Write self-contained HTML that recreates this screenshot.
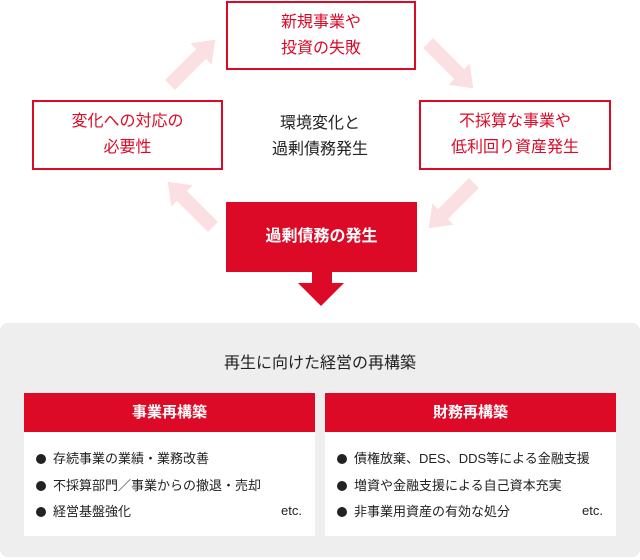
<!DOCTYPE html>
<html><head><meta charset="utf-8"><style>
body{margin:0;width:640px;height:560px;background:#fff;font-family:"Liberation Sans","Noto Sans CJK JP",sans-serif;position:relative;overflow:hidden}
.box{position:absolute;box-sizing:border-box;border:2px solid #dc0a27;color:#dc0a27;font-size:16px;line-height:26px;text-align:center;display:flex;align-items:center;justify-content:center}
.abs{position:absolute}
.li{position:relative;padding-left:17px;height:26.5px}
.li:before{content:"";position:absolute;left:0;top:8px;width:10px;height:10px;border-radius:50%;background:#222}
</style></head><body>
<svg class="abs" style="left:0;top:0" width="640" height="320">
<defs><polygon id="ar" points="0,-7 44,-7 44,-15 64,0 44,15 44,7 0,7" fill="#fbe0e3"/></defs>
<use href="#ar" transform="translate(170,85) rotate(-45)"/>
<use href="#ar" transform="translate(428,43) rotate(45)"/>
<use href="#ar" transform="translate(474,183) rotate(135)"/>
<use href="#ar" transform="translate(213,227) rotate(-135)"/>
<rect x="312" y="271" width="20" height="13" fill="#dc0a27"/>
<polygon points="298,283 344,283 321,306" fill="#dc0a27"/>
</svg>
<div class="box" style="left:226px;top:1px;width:190px;height:69px">新規事業や<br>投資の失敗</div>
<div class="box" style="left:32px;top:100px;width:191px;height:70px">変化への対応の<br>必要性</div>
<div class="box" style="left:419px;top:100px;width:192px;height:70px">不採算な事業や<br>低利回り資産発生</div>
<div class="abs" style="left:230px;top:111px;width:180px;text-align:center;font-size:16px;line-height:26px;color:#222">環境変化と<br>過剰債務発生</div>
<div class="box" style="left:226px;top:202px;width:191px;height:70px;background:#dc0a27;color:#fff;font-weight:bold">過剰債務の発生</div>
<div class="abs" style="left:0;top:323px;width:640px;height:234px;background:#eeeeee;border-radius:8px"></div>
<div class="abs" style="left:0;top:349px;width:640px;text-align:center;font-size:16px;color:#222">再生に向けた経営の再構築</div>
<div class="abs" style="left:24px;top:393px;width:291px;height:143px;background:#fff"></div>
<div class="abs" style="left:325px;top:393px;width:291px;height:143px;background:#fff"></div>
<div class="abs" style="left:24px;top:393px;width:291px;height:39px;background:#dc0a27;color:#fff;font-weight:bold;font-size:15px;line-height:39px;text-align:center">事業再構築</div>
<div class="abs" style="left:325px;top:393px;width:291px;height:39px;background:#dc0a27;color:#fff;font-weight:bold;font-size:15px;line-height:39px;text-align:center">財務再構築</div>
<div class="abs" style="left:36px;top:446px;font-size:13px;line-height:26.5px;color:#222"><div class="li">存続事業の業績・業務改善</div><div class="li">不採算部門／事業からの撤退・売却</div><div class="li">経営基盤強化</div></div>
<div class="abs" style="left:281px;top:503px;font-size:13px;color:#222">etc.</div>
<div class="abs" style="left:337px;top:446px;font-size:13px;line-height:26.5px;color:#222"><div class="li">債権放棄、DES、DDS等による金融支援</div><div class="li">増資や金融支援による自己資本充実</div><div class="li">非事業用資産の有効な処分</div></div>
<div class="abs" style="left:582px;top:503px;font-size:13px;color:#222">etc.</div>
</body></html>
